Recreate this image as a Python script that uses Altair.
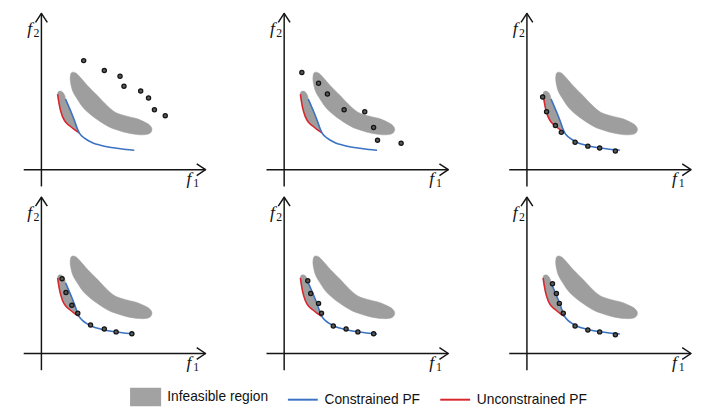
import altair as alt
import pandas as pd

# ---------------- data ----------------
panels = ["p1", "p2", "p3", "p4", "p5", "p6"]

# infeasible region (large boomerang) outline, f1/f2 units
big_x = [31, 35, 40, 47, 57, 65, 75, 87, 97, 105, 110, 112.5, 109.5, 100, 87, 77, 67, 52, 43, 37, 32, 29.5, 29.5]
big_y = [99, 98.5, 93.5, 85.5, 75.5, 67, 58.5, 54.5, 52, 48.5, 45.5, 41, 36.5, 35.5, 37.5, 40.5, 44.5, 54.5, 62.5, 71, 79.5, 89.5, 96]

# unconstrained PF (red)
red_x = [16.5, 17.5, 18.8, 21.5, 25, 29, 34, 38.5]
red_y = [77, 70, 63, 54, 48, 44.5, 40.5, 37.5]

# constrained PF (blue)
blue_x = [24.5, 27.5, 30.5, 34, 36.5, 38.5, 42, 47, 53, 60, 68, 77, 86, 94.5]
blue_y = [72, 65, 58, 49, 42, 37.5, 33.5, 30, 27, 25, 23.2, 21.8, 20.6, 19.8]

# small infeasible region between the two fronts
small_x = [38.5, 34, 29, 25, 21.5, 18.8, 17.5, 16.5, 16.8, 18.5, 20.5, 22.5, 24, 24.5, 27.5, 30.5, 34, 36.5]
small_y = [37.5, 40.5, 44.5, 48, 54, 63, 70, 77, 79, 80, 79.8, 78, 75, 72, 65, 58, 49, 42]

# solutions in each panel
sol_x = [
    [43, 64, 80, 84, 101, 109, 115, 126],
    [18, 35, 44, 61, 82, 91, 95, 119],
    [16, 20, 29, 35, 49, 62, 74, 90],
    [21, 25, 31, 37, 50, 64, 76, 92],
    [24, 27, 35, 38, 50, 63, 75, 91],
    [26, 30, 33, 37, 49, 62, 74, 90],
]
sol_y = [
    [111, 101, 95, 85, 80, 73, 61, 55],
    [99, 88, 77, 61, 59, 43, 30, 27],
    [74, 59, 45, 38, 28, 24, 22, 19],
    [76, 62, 49, 41, 29, 25, 22, 20],
    [74, 61, 51, 41, 28, 25, 22, 20],
    [71, 61, 51, 41, 28, 24, 22, 19],
]

# axes and arrow heads
xaxis_x = [-18, 167]
xaxis_y = [0, 0]
yaxis_x = [0, 0]
yaxis_y = [-17, 159]
xhead_x = [158, 167, 158]
xhead_y = [6, 0, -6]
yhead_x = [-6, 0, 6]
yhead_y = [150, 159, 150]

# axis labels
labf_x = [-12, 150]
labf_y = [143, -10]
labf_text = ["f", "f"]
labsub_x = [-5, 157.5]
labsub_y = [139, -13.5]
labsub_text = ["2", "1"]

legend_labels = ["Infeasible region", "Constrained PF", "Unconstrained PF"]

# ---------------- styles ----------------
GREY = "#9e9e9e"
BLUE = "#3b72c3"
RED = "#d8262e"
INK = "#151515"

rows = []


def add(kind, xs, ys, series="", texts=None, group=None):
    for p in panels:
        for i, (x, y) in enumerate(zip(xs, ys)):
            rows.append(dict(panel=p, kind=kind, group=group or kind, i=i, x=x, y=y,
                             series=series, text=(texts[i] if texts else "")))


add("big", big_x, big_y, "Infeasible region", group="big")
add("small", small_x, small_y, "Infeasible region", group="small")
add("red", red_x, red_y, "Unconstrained PF")
add("blue", blue_x, blue_y, "Constrained PF")
add("axis", xaxis_x, xaxis_y, group="xaxis")
add("axis", yaxis_x, yaxis_y, group="yaxis")
add("axis", xhead_x, xhead_y, group="xhead")
add("axis", yhead_x, yhead_y, group="yhead")
add("labf", labf_x, labf_y, texts=labf_text, group="labf")
add("labsub", labsub_x, labsub_y, texts=labsub_text, group="labsub")
for p, xs, ys in zip(panels, sol_x, sol_y):
    for i, (x, y) in enumerate(zip(xs, ys)):
        rows.append(dict(panel=p, kind="sol", group="sol", i=i, x=x, y=y, series="", text=""))

df = pd.DataFrame(rows)

X = alt.X("x:Q", scale=alt.Scale(domain=[-18, 169], nice=False, zero=False), axis=None)
Y = alt.Y("y:Q", scale=alt.Scale(domain=[-17, 160], nice=False, zero=False), axis=None)

leg_kw = dict(orient="none", legendX=115, legendY=382, direction="horizontal", symbolSize=256,
              symbolStrokeWidth=2, symbolOpacity=1, labelFont="Liberation Sans", labelFontSize=14,
              labelColor="#111111", labelOffset=13, columnPadding=15, padding=0)
shape_paths = ["M-1.85,-1.05H1.85V1.05H-1.85Z", "M-1.9,0H1.9", "M-1.9,0H1.9"]
leg_colors = ["#a2a2a2", BLUE, RED]


def sel(p, kind):
    return (alt.datum.panel == p) & (alt.datum.kind == kind)


def panel(p, with_legend=False):
    base = alt.Chart()
    big = base.mark_line(interpolate="cardinal-closed", fill=GREY, stroke=GREY, strokeWidth=0.5).encode(
        X, Y, order="i:Q").transform_filter(sel(p, "big"))
    small = base.mark_line(interpolate="linear-closed", fill=GREY, stroke=GREY, strokeWidth=0.5).encode(
        X, Y, order="i:Q").transform_filter(sel(p, "small"))
    red = base.mark_line(interpolate="monotone", color=RED, strokeWidth=1.6).encode(
        X, Y, order="i:Q").transform_filter(sel(p, "red"))
    blue = base.mark_line(interpolate="monotone", color=BLUE, strokeWidth=1.6).encode(
        X, Y, order="i:Q").transform_filter(sel(p, "blue"))
    axes = base.mark_line(color=INK, strokeWidth=1.5, strokeJoin="round").encode(
        X, Y, detail="group:N", order="i:Q").transform_filter(sel(p, "axis"))
    dots = base.mark_point(filled=True, shape="circle", size=18, fill="#5a5a5a", stroke=INK,
                           strokeWidth=1.3, opacity=1).encode(X, Y).transform_filter(sel(p, "sol"))
    labf = base.mark_text(font="Liberation Serif", fontStyle="italic", fontSize=18, color=INK,
                          align="center", baseline="middle").encode(X, Y, text="text:N").transform_filter(
        sel(p, "labf"))
    labsub = base.mark_text(font="Liberation Serif", fontSize=12, color=INK,
                            align="center", baseline="middle").encode(X, Y, text="text:N").transform_filter(
        sel(p, "labsub"))
    layers = [big, small, red, blue, axes, dots, labf, labsub]
    if with_legend:
        legend_layer = base.mark_point(filled=True, opacity=0).encode(
            X, Y,
            fill=alt.Fill("series:N", title=None,
                          scale=alt.Scale(domain=legend_labels, range=leg_colors),
                          legend=alt.Legend(**leg_kw)),
            stroke=alt.Stroke("series:N", title=None,
                              scale=alt.Scale(domain=legend_labels, range=leg_colors),
                              legend=alt.Legend(**leg_kw)),
            shape=alt.Shape("series:N", title=None,
                            scale=alt.Scale(domain=legend_labels, range=shape_paths),
                            legend=alt.Legend(**leg_kw)),
        ).transform_filter((alt.datum.panel == p) & (alt.datum.series != ""))
        layers.append(legend_layer)
    return alt.layer(*layers).properties(width=187, height=177)


chart = alt.concat(
    panel("p1", True), panel("p2"), panel("p3"), panel("p4"), panel("p5"), panel("p6"),
    data=df, columns=3, spacing={"row": 10, "column": 60}, bounds="flush",
).properties(
    padding={"left": 14, "top": 0, "right": 0, "bottom": 0}
).configure_view(stroke="transparent")

chart.save("out.html", embed_options={"renderer": "svg", "actions": False})
